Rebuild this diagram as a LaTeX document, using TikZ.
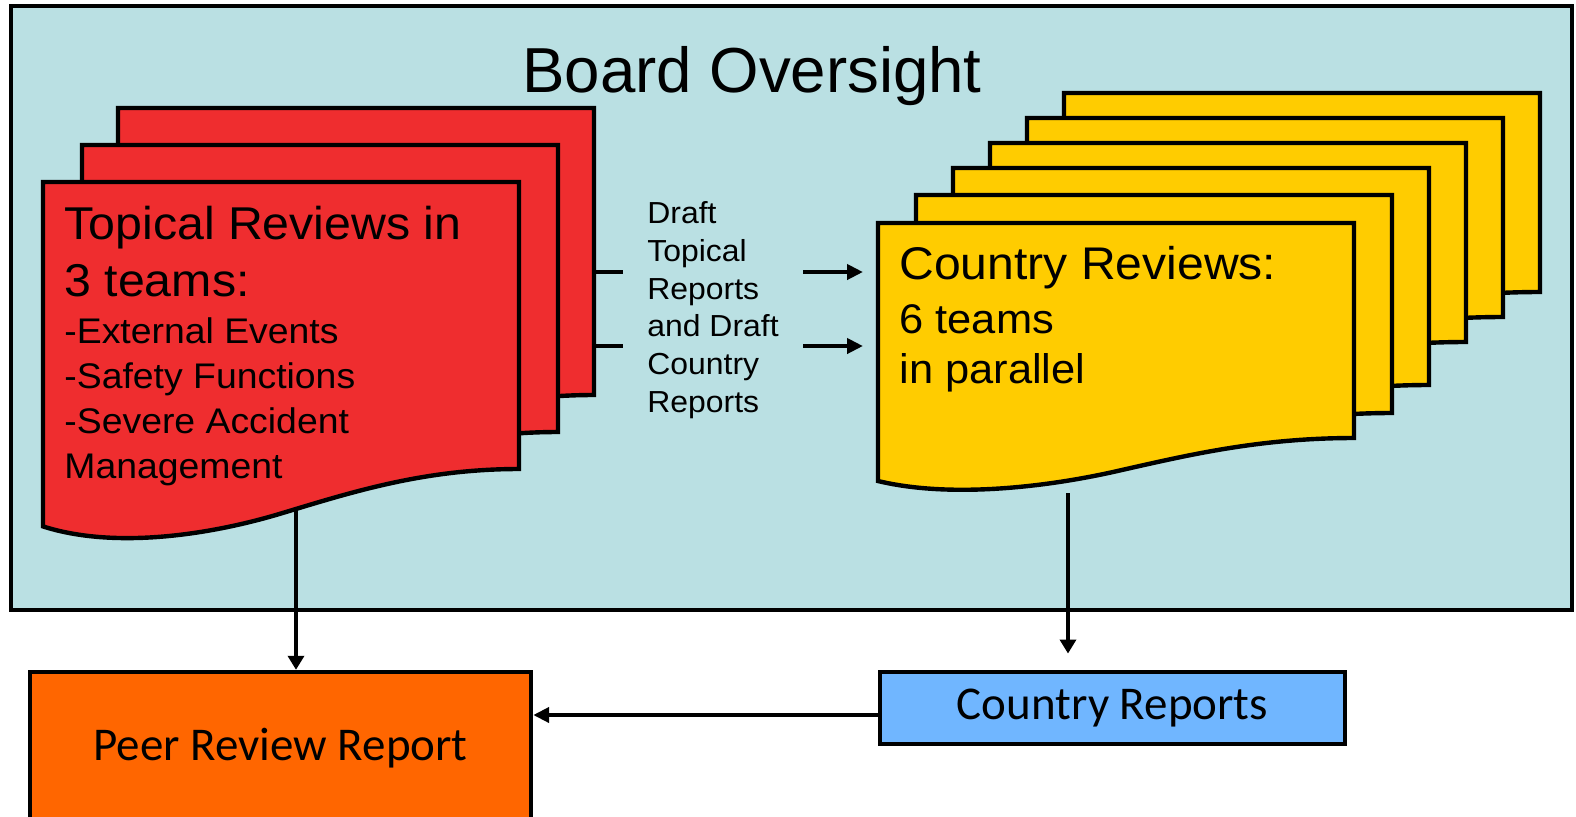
\documentclass[tikz,border=0pt]{standalone}
\definecolor{boardblue}{RGB}{186,224,227}
\definecolor{sheetred}{RGB}{239,45,47}
\definecolor{sheetyellow}{RGB}{255,204,0}
\definecolor{peerorange}{RGB}{255,102,0}
\definecolor{reportblue}{RGB}{112,182,255}
\usepackage{fontspec}
\setmainfont{Liberation Sans}
\newfontfamily\wideface{Liberation Sans}[FakeStretch=1.05]
\newfontfamily\carlito{Carlito}
\usetikzlibrary{arrows.meta,calc}
\setlength{\parindent}{0pt}

% one sheet of a stack: left, top, width, height, fill
\newcommand{\docsheet}[5]{%
  \draw[sheet,fill=#5] (#1,#2) -- (#1+#3,#2) -- (#1+#3,#2+#4)
    .. controls (#1+0.8*#3,#2+#4) and (#1+0.65*#3,#2+1.08*#4) .. (#1+0.5*#3,#2+1.155*#4)
    .. controls (#1+0.35*#3,#2+1.23*#4) and (#1+0.15*#3,#2+1.28*#4) .. (#1,#2+1.2*#4) -- cycle;}
% text size inside a sheet, with the font's own word spaces
\newcommand{\sheetsize}[2]{\fontsize{#1}{#2}\selectfont\spaceskip=0pt\xspaceskip=0pt\relax}

\begin{document}
\begin{tikzpicture}[x=0.5pt,y=-0.5pt,
    sheet/.style={draw=black,line width=2.2pt},
    sheettext/.style={anchor=north west,inner sep=0pt,font=\wideface},
    outbox/.style={draw=black,line width=2.2pt,font=\carlito\fontsize{23.5}{28}\selectfont},
    flow/.style={line width=2pt,-{Triangle[length=8pt,width=7.5pt]}},
    drop/.style={line width=1.7pt,-{Triangle[length=7pt,width=8pt]}},
    stub/.style={line width=2pt}]
  \useasboundingbox (0,0) rectangle (1576,816);
  \draw[fill=boardblue,line width=2.3pt] (11,6) rectangle (1572,610);
  \node[font=\fontsize{31.8}{36}\selectfont,anchor=base] (board) at (752,92) {Board Oversight};

  % topical stack
  \foreach \dx/\dy in {118/108,82/145,43/182}
    \docsheet{\dx}{\dy}{476}{287}{sheetred};
  \node[sheettext,text width=225pt] (topical) at (64,206)
    {\sheetsize{23}{28.5}Topical Reviews in\par 3 teams:\par
     \sheetsize{17.8}{23.5}-External Events\par
     \sheetsize{17.8}{22.5}-Safety Functions\par -Severe Accident\par Management\par};

  % country stack
  \foreach \dx/\dy/\dh in {1064/93/199,1027/118/199,990/143/199,953/168/217,916/195/218,878/223/215}
    \docsheet{\dx}{\dy}{476}{\dh}{sheetyellow};
  \node[sheettext,text width=220pt] (countryrev) at (899,246)
    {\sheetsize{22.9}{28}Country Reviews:\par
     \sheetsize{20.7}{27}6 teams\par
     \sheetsize{20.7}{25}in parallel\par};

  \node[sheettext,align=left,font=\wideface\fontsize{15.2}{18.9}\selectfont,inner xsep=12pt]
    (drafts) at (623,201) {Draft\\Topical\\Reports\\and Draft\\Country\\Reports};

  \node[outbox,fill=peerorange,minimum width=250.5pt,minimum height=76pt] (peer) at (280.5,748) {Peer Review Report};
  \node[outbox,fill=reportblue,minimum width=232.5pt,minimum height=36.25pt] (countryrep) at (1112.5,708) {Country Reports};

  \coordinate (stubA) at (594,272);
  \coordinate (stubB) at (594,346);
  \coordinate (yelfront) at (878,223);
  \coordinate (redout) at (296,510);
  \coordinate (yelout) at (1068,493);
  \coordinate (crin) at ([yshift=-3.5pt]countryrep.west);

  \draw[stub] (stubA) -- (stubA -| drafts.west);
  \draw[stub] (stubB) -- (stubB -| drafts.west);
  \draw[flow,shorten >=7.5pt] (stubA -| drafts.east) -- (stubA -| yelfront);
  \draw[flow,shorten >=7.5pt] (stubB -| drafts.east) -- (stubB -| yelfront);
  \draw[drop] (redout) -- (redout |- peer.north);
  \draw[drop,shorten >=8pt] (yelout) -- (yelout |- countryrep.north);
  \draw[flow] (crin) -- (crin -| peer.east);
\end{tikzpicture}
\end{document}
